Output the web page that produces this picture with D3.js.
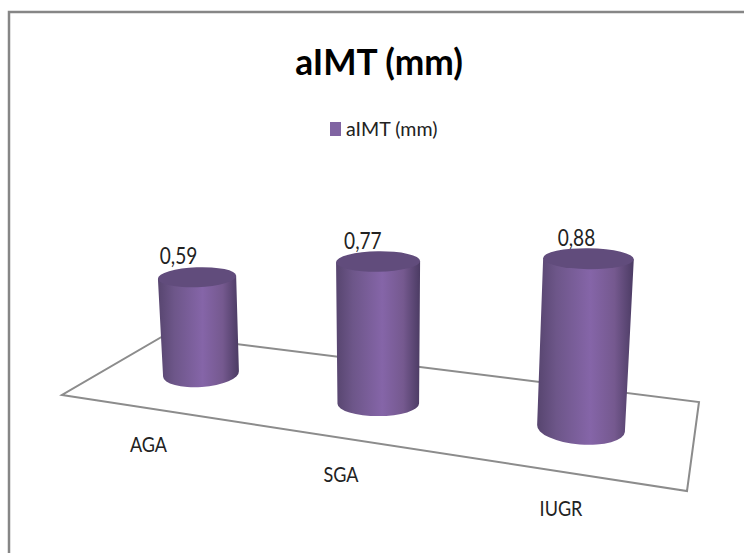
<!DOCTYPE html>
<html>
<head>
<meta charset="utf-8">
<script src="https://cdn.jsdelivr.net/npm/d3@7"></script>
<style>
  html, body { margin: 0; padding: 0; background: #fff; }
  svg { display: block; }
  text { font-family: Lato, "Open Sans", sans-serif; fill: #222; }
</style>
</head>
<body>
<svg id="chart"></svg>
<script>
const title = "aIMT (mm)";
const categories = ["AGA", "SGA", "IUGR"];
const values = [0.59, 0.77, 0.88];
const valueLabels = ["0,59", "0,77", "0,88"];

const width = 744;
const height = 553;

const svg = d3.select("#chart").attr("width", width).attr("height", height);

// outer frame, only top and left show in the crop
svg.append("path")
  .attr("d", `M9,${height}V12H${width}`)
  .attr("fill", "none")
  .attr("stroke", "#868686")
  .attr("stroke-width", 2.5);

// Floor of the 3D plot
const floor = [[62, 395], [687, 491], [699, 402], [165, 335]];
svg.append("path")
  .attr("d", d3.line()(floor) + "Z")
  .attr("fill", "#fff")
  .attr("stroke", "#8c8c8c")
  .attr("stroke-width", 2);

// Perspective scales: everything is driven by position along the category axis
const index = d3.scaleOrdinal(categories, [0, 1, 2]);
const xscale = d3.scalePow().exponent(1.1).domain([0, 2]).range([201, 581]);
const baseY = d3.scalePow().exponent(0.88).domain([0, 2]).range([374, 428.5]);
const rxscale = d3.scaleLinear().domain([201, 581]).range([38, 44]);
const ryBase = d3.scaleLinear().domain([201, 378, 581]).range([13, 12.5, 16]);
const ryTop = d3.scaleLinear().domain([201, 581]).range([10, 10.5]);
const lean = d3.scaleLinear().domain([201, 581]).range([-0.041, 0.044]);
const tiltBase = d3.scaleLinear().domain([201, 581]).range([-4, 4.5]);
const tiltTop = d3.scaleLinear().domain([201, 581]).range([-2.2, 0.8]);
// pixels per unit of value, grows towards the viewer
const unit = d3.scalePow().exponent(0.5).domain([0, 2]).range([164, 193]);

const defs = svg.append("defs");
const grad = defs.append("linearGradient").attr("id", "cyl");
grad.selectAll("stop")
  .data([[0, "#57456f"], [0.2, "#6d5689"], [0.55, "#8565a8"], [0.8, "#75598f"], [1, "#4b3b63"]])
  .join("stop")
  .attr("offset", (d) => d[0])
  .attr("stop-color", (d) => d[1]);

function edge(cx, cy, rx, tilt) {
  const a = tilt * Math.PI / 180;
  const dx = rx * Math.cos(a);
  const dy = rx * Math.sin(a);
  return { left: [cx - dx, cy - dy], right: [cx + dx, cy + dy] };
}

// The reference text is tall and narrow, so squeeze it horizontally
function squeezed(sel, x, y, size, sx) {
  return sel
    .attr("transform", `translate(${x},${y}) scale(${sx},1)`)
    .attr("font-size", size);
}

const bars = svg.selectAll("g.bar")
  .data(categories.map((key, i) => ({ key, value: values[i], label: valueLabels[i] })))
  .join("g")
  .attr("class", "bar");

bars.each(function (d) {
  const g = d3.select(this);
  const i = index(d.key);
  const bx = xscale(i);
  const by = baseY(i);
  const h = d.value * unit(i);
  const tx = bx + h * lean(bx);
  const ty = by - h;
  const rb = rxscale(bx);
  const rt = rb * 1.03;
  const eb = edge(bx, by, rb, tiltBase(bx));
  const et = edge(tx, ty, rt, tiltTop(bx));

  g.append("path")
    .attr("d", `M${et.left}L${eb.left}A${rb},${ryBase(bx)} ${tiltBase(bx)} 0 0 ${eb.right}L${et.right}Z`)
    .attr("fill", "url(#cyl)");

  g.append("ellipse")
    .attr("cx", tx)
    .attr("cy", ty)
    .attr("rx", rt)
    .attr("ry", ryTop(bx))
    .attr("transform", `rotate(${tiltTop(bx)},${tx},${ty})`)
    .attr("fill", "#614c7c");

  g.append("text")
    .attr("text-anchor", "middle")
    .call(squeezed, tx - 18.5 + i * 3.25, ty - 13, 23, 0.83)
    .text(d.label);
});

// Category labels under the floor
const labelX = d3.scalePow().exponent(1.1).domain([0, 2]).range([148.5, 561]);
const labelY = d3.scalePow().exponent(1.1).domain([0, 2]).range([452, 516]);
svg.selectAll("text.cat")
  .data(categories)
  .join("text")
  .attr("class", "cat")
  .attr("text-anchor", "middle")
  .each(function (d) {
    d3.select(this).call(squeezed, labelX(index(d)), labelY(index(d)), 22, 0.82);
  })
  .text((d) => d);

svg.append("text")
  .attr("text-anchor", "middle")
  .call(squeezed, 379, 75, 36, 0.98)
  .attr("font-weight", 700)
  .style("fill", "#000")
  .text(title);

// Legend
svg.append("rect")
  .attr("x", 330).attr("y", 122).attr("width", 11).attr("height", 14)
  .attr("fill", "#8064a2");
svg.append("text")
  .call(squeezed, 346, 136, 20, 0.98)
  .text(title);
</script>
</body>
</html>
